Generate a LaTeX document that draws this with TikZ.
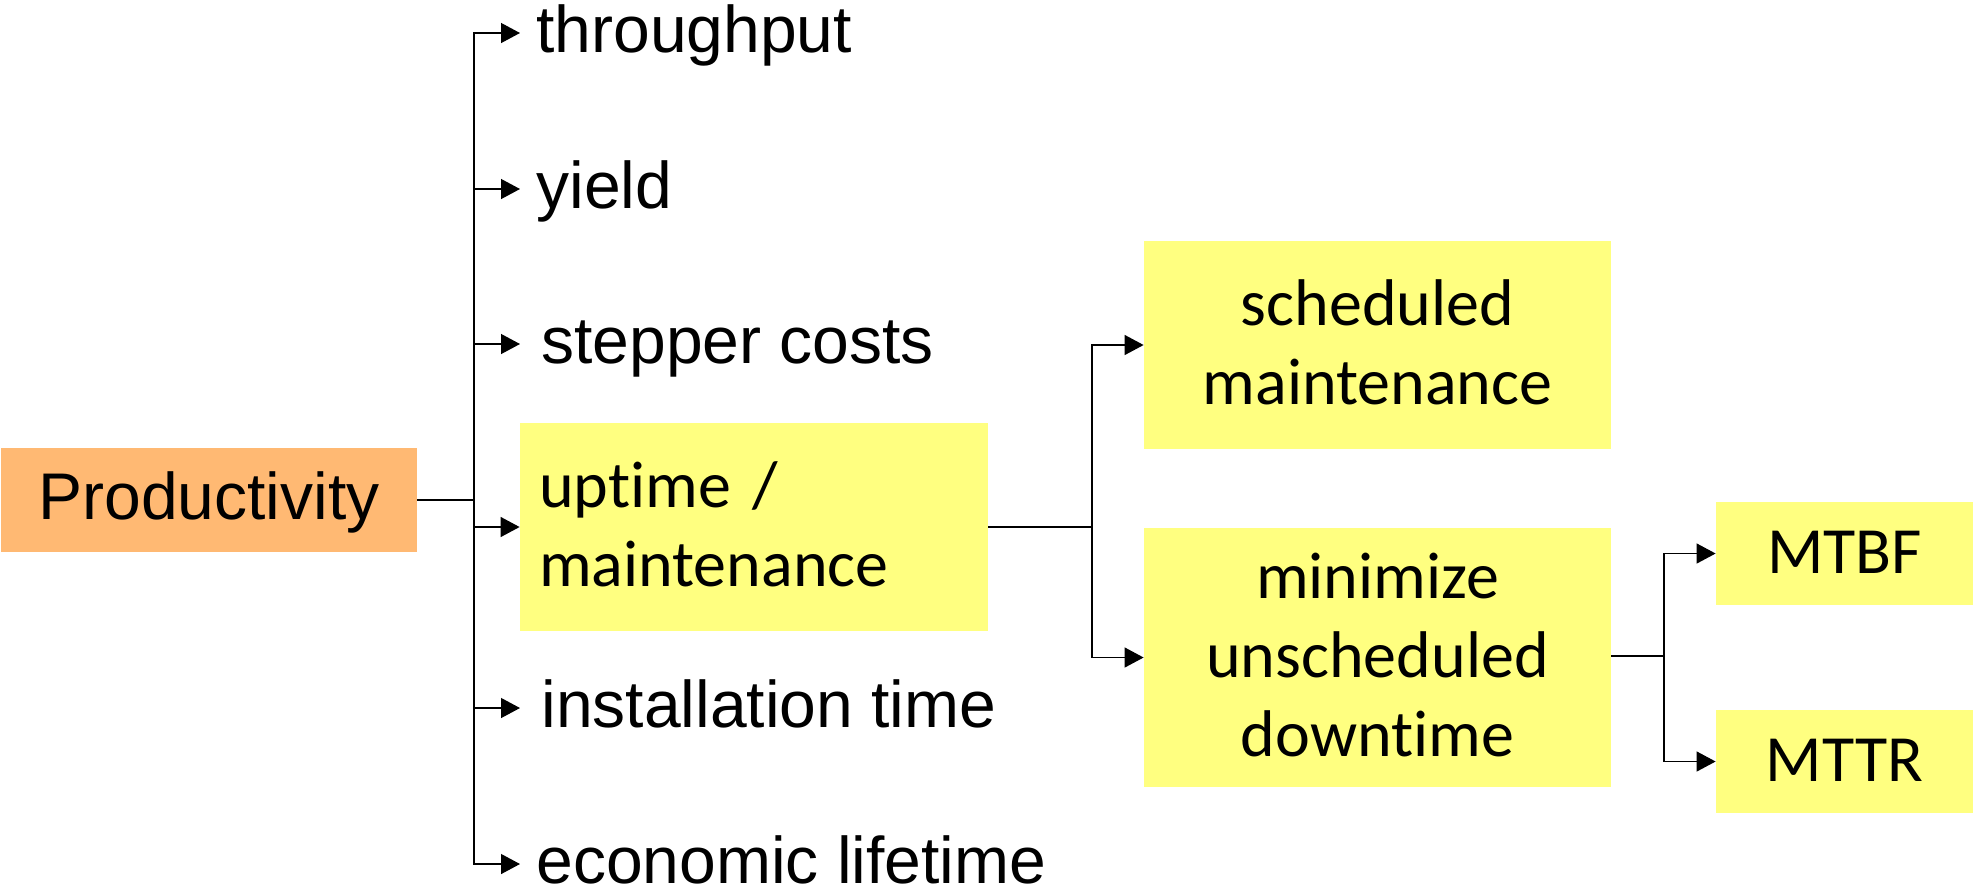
\documentclass[tikz,border=0pt]{standalone}
\usepackage{fontspec}
\setmainfont{Liberation Sans}
\newfontfamily\calfont[Ligatures=NoCommon]{Carlito}
\usetikzlibrary{arrows.meta}
\definecolor{orangebox}{RGB}{255,185,115}
\definecolor{yellowbox}{RGB}{255,255,128}
\newcommand\lstrut{\rule[-0.2em]{0pt}{1em}}
\begin{document}
\begin{tikzpicture}[x=0.5pt,y=-0.5pt,
  conn/.style={line width=0.65pt, draw=black},
  arr/.style={conn, -{Triangle[length=9.5pt,width=10pt]}},
  itemtext/.style={anchor=west, inner xsep=8pt, inner ysep=0pt, font=\fontsize{33}{40}\selectfont},
  ybox/.style={fill=yellowbox, inner sep=0pt, font=\calfont\fontsize{33}{39.5}\selectfont, align=center},
]
\useasboundingbox (0,0) rectangle (1973,890);

% root
\node[fill=orangebox, inner sep=0pt, minimum width=208pt, minimum height=52pt,
      font=\fontsize{33}{40}\selectfont] (prod) at (209,500) {\lstrut Productivity};

% first level
\node[itemtext] (thr) at (520,33) {\lstrut throughput};
\node[itemtext] (yld) at (520,189) {\lstrut yield};
\node[itemtext, inner xsep=10.5pt] (stp) at (520,344) {\lstrut stepper costs};
\node[ybox, align=left, text width=215pt, minimum width=234pt, minimum height=104pt] (upt) at (754,527)
  {\lstrut uptime /\\\lstrut maintenance};
\node[itemtext, inner xsep=10.5pt] (ins) at (520,708) {\lstrut installation time};
\node[itemtext] (eco) at (520,864) {\lstrut economic lifetime};

% second level
\node[ybox, minimum width=233.5pt, minimum height=104pt] (sch) at (1377.5,345)
  {\lstrut scheduled\\\lstrut maintenance};
\node[ybox, minimum width=233.5pt, minimum height=129.5pt] (min) at (1377.5,657.5)
  {\lstrut minimize\\\lstrut unscheduled\\\lstrut downtime};

% third level
\node[ybox, minimum width=128.5pt, minimum height=51.5pt] (mtbf) at (1844.5,553.5) {\lstrut MTBF};
\node[ybox, minimum width=128.5pt, minimum height=51.5pt] (mttr) at (1844.5,761.5) {\lstrut MTTR};

% junctions
\coordinate (j1) at (474,500);
\coordinate (j2) at (1092,527);
\coordinate (j3) at (1664,656);

% connectors
\draw[conn] (prod.east) -- (j1);
\foreach \t in {thr,yld,stp,upt,ins,eco} \draw[arr] (j1) |- (\t.west);
\draw[conn] (upt.east) -- (j2);
\draw[arr] (j2) |- (sch.west);
\draw[arr] (j2) |- (min.west);
\draw[conn] (min.east |- j3) -- (j3);
\draw[arr] (j3) |- (mtbf.west);
\draw[arr] (j3) |- (mttr.west);
\end{tikzpicture}
\end{document}
